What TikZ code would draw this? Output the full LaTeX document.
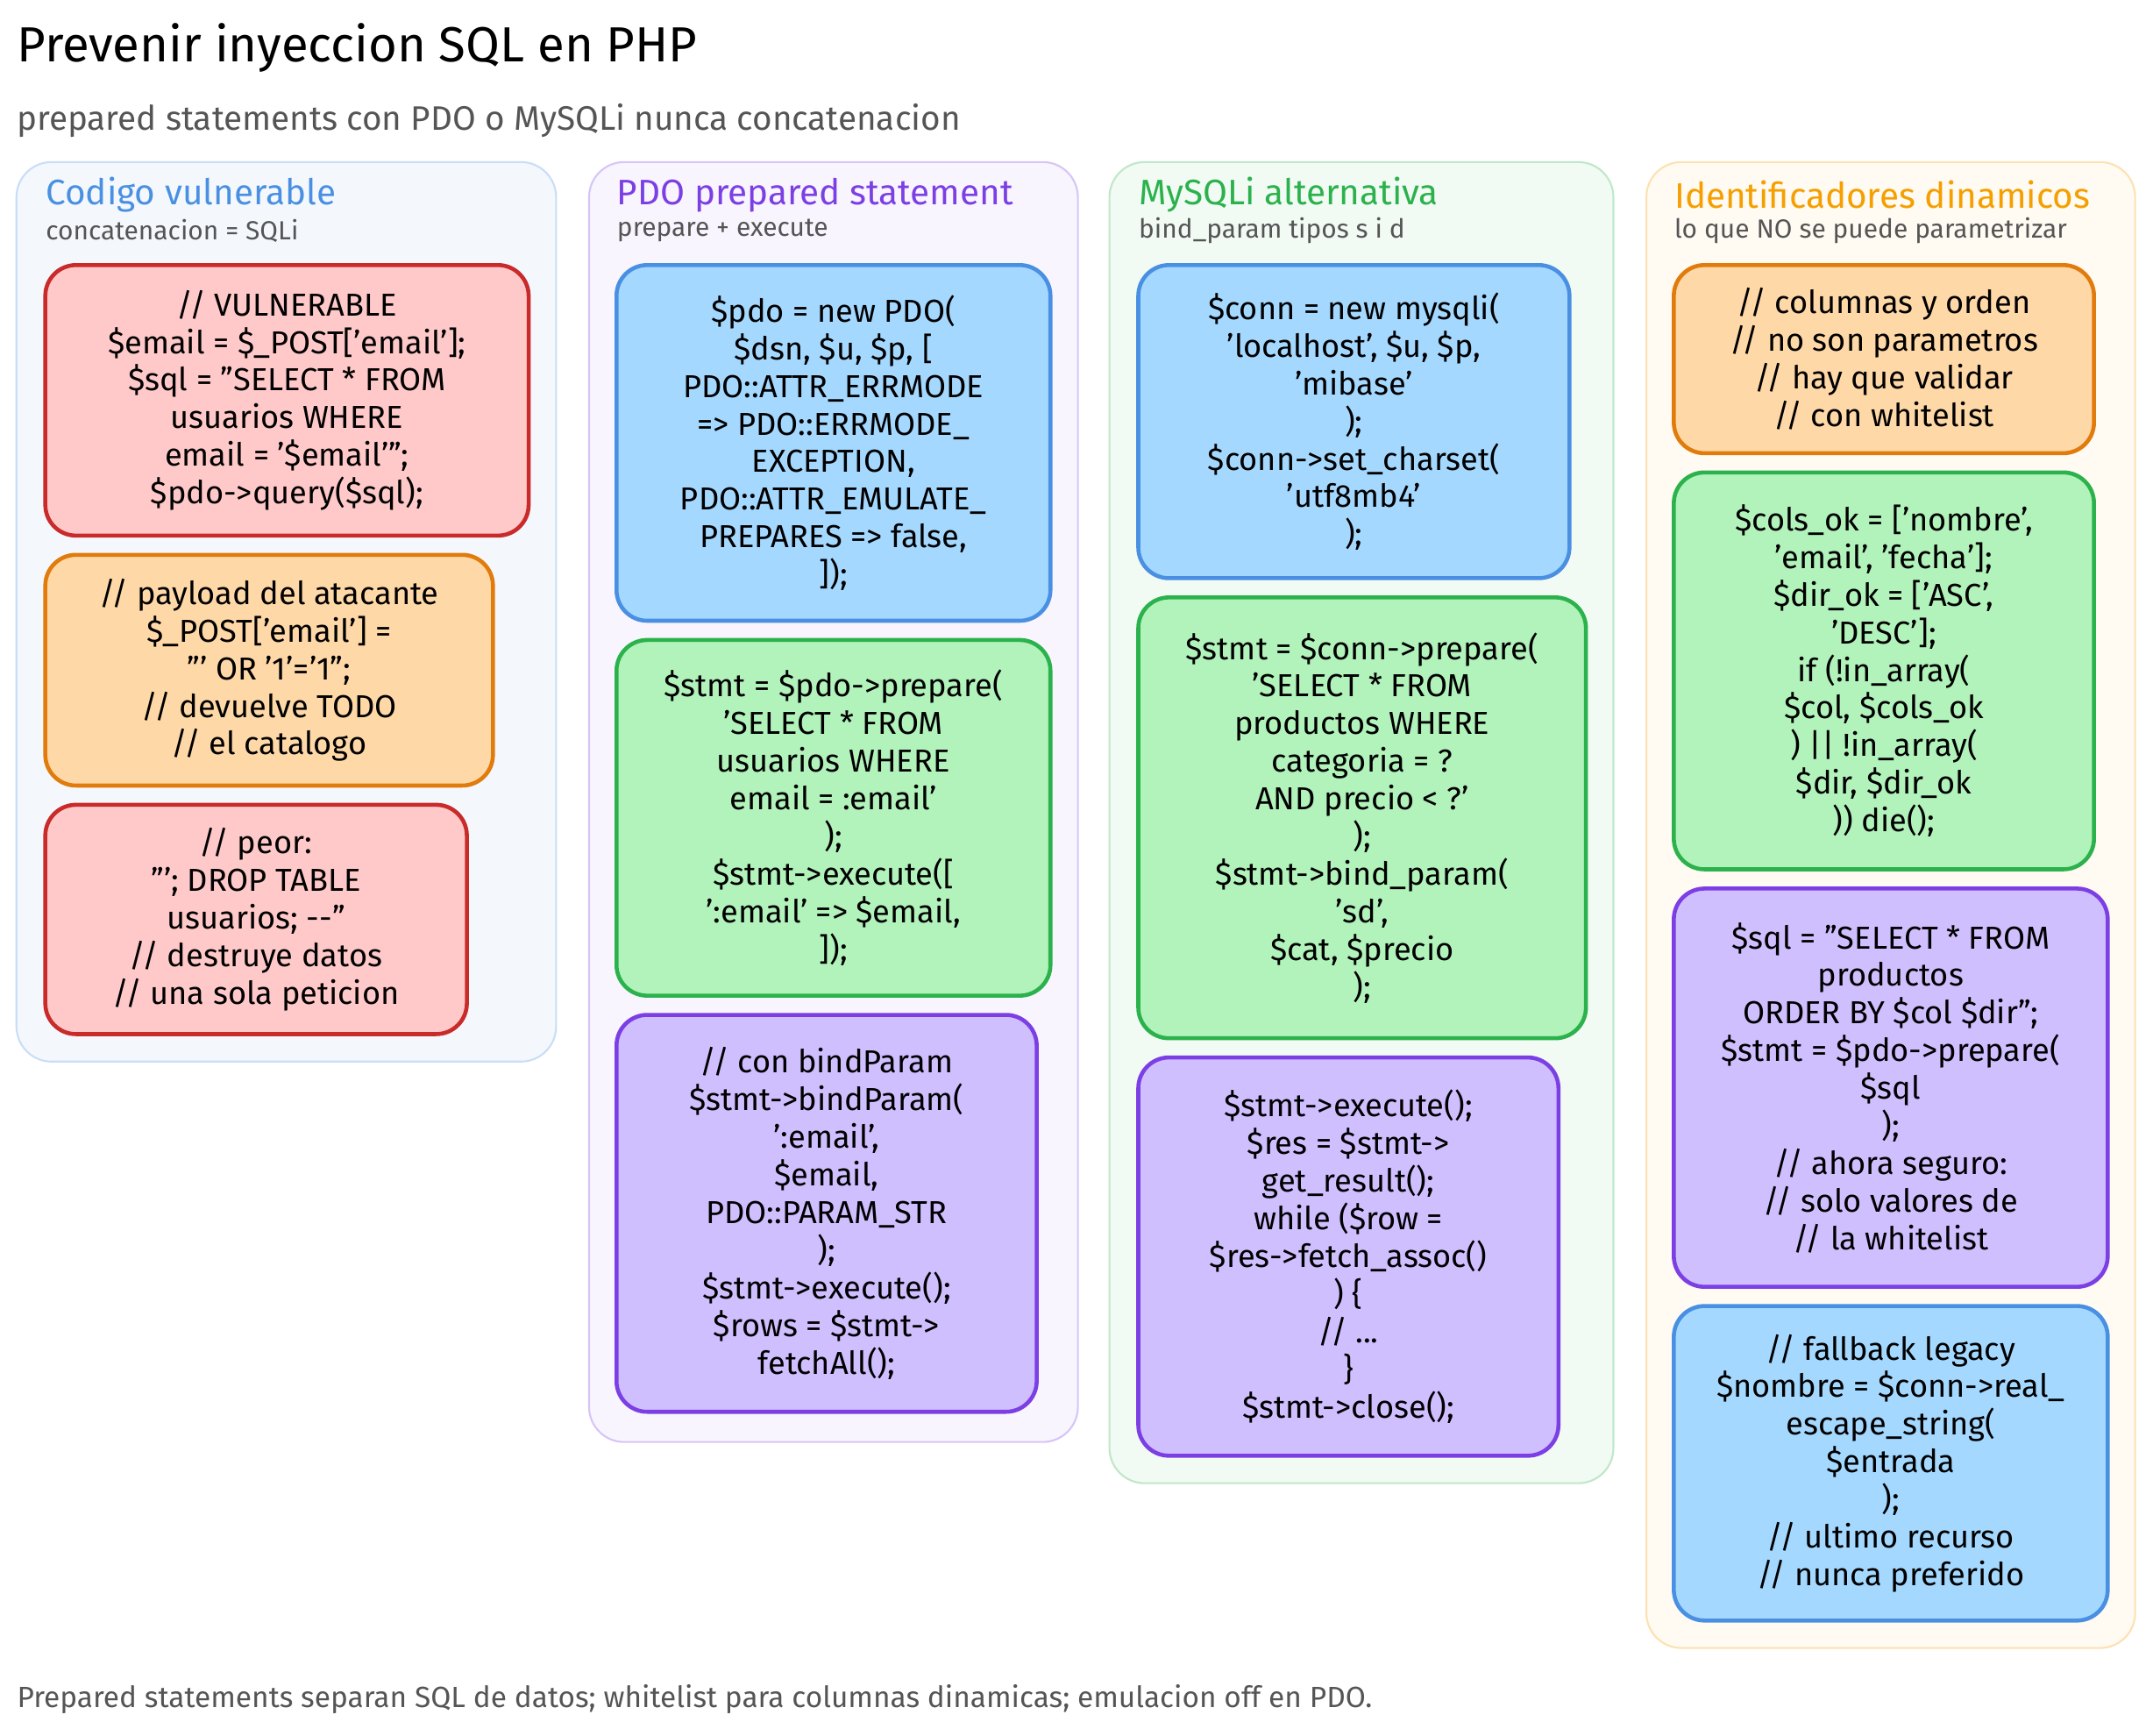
\documentclass[tikz,border=0pt]{standalone}
\usepackage{fontspec}
\setmainfont{Fira Sans}[Ligatures=ResetAll]
\definecolor{inkred}{HTML}{C92A2A}\definecolor{fillred}{HTML}{FFC9C9}
\definecolor{inkorange}{HTML}{E07B0C}\definecolor{fillorange}{HTML}{FFD8A8}
\definecolor{inkblue}{HTML}{4A90E2}\definecolor{fillblue}{HTML}{A5D8FF}
\definecolor{inkgreen}{HTML}{2BB24C}\definecolor{fillgreen}{HTML}{B2F2BB}
\definecolor{inkpurple}{HTML}{7B3FE4}\definecolor{fillpurple}{HTML}{D0BFFF}
\definecolor{txtgray}{HTML}{555555}
\definecolor{titleorange}{HTML}{F59F00}
\tikzset{
  panel/.style={rounded corners=0.4cm, line width=0.6pt},
  box/.style={rounded corners=0.35cm, line width=1.3pt},
  code/.style={align=center, font=\fontsize{10.3}{12.2}\selectfont, inner sep=0pt},
  coltitle/.style={anchor=west, font=\fontsize{11.5}{14}\selectfont, inner sep=0pt},
  colsub/.style={anchor=west, font=\fontsize{8.5}{10}\selectfont, text=txtgray, inner sep=0pt},
}
\newcommand{\cbox}[7]{%
  \draw[box, draw=ink#2, fill=fill#2] (#3,#4) rectangle (#5,#6);
  \node[code] (#1) at ({(#3+#5)/2},{(#4+#6)/2}) {#7};}
\begin{document}
\begin{tikzpicture}[x=0.01566cm, y=-0.01566cm]
\useasboundingbox[fill=white] (0,0) rectangle (1568,1264);
% header
\node[anchor=west, inner sep=0pt, font=\fontsize{16}{20}\selectfont] (title) at (12,35) {Prevenir inyeccion SQL en PHP};
\node[anchor=west, inner sep=0pt, font=\fontsize{11}{14}\selectfont, text=txtgray] (subtitle) at (12,88) {prepared statements con PDO o MySQLi nunca concatenacion};
% panels
\draw[panel, draw=inkblue!30, fill=inkblue!6] (12,118) rectangle (405,773);
\draw[panel, draw=inkpurple!30, fill=inkpurple!5] (429,118) rectangle (785,1050);
\draw[panel, draw=inkgreen!30, fill=inkgreen!6] (808,118) rectangle (1175,1080);
\draw[panel, draw=titleorange!30, fill=titleorange!5] (1199,118) rectangle (1555,1200);
\node[coltitle, text=inkblue] (t1) at (33,142) {Codigo vulnerable};
\node[colsub] (s1) at (33,168) {concatenacion = SQLi};
\node[coltitle, text=inkpurple] (t2) at (449,142) {PDO prepared statement};
\node[colsub] (s2) at (449,168) {prepare + execute};
\node[coltitle, text=inkgreen] (t3) at (829,142) {MySQLi alternativa};
\node[colsub] (s3) at (829,168) {bind\_param tipos s i d};
\node[coltitle, text=titleorange] (t4) at (1219,142) {Identificadores dinamicos};
\node[colsub] (s4) at (1219,168) {lo que NO se puede parametrizar};
% column 1
\cbox{vuln}{red}{33}{193}{385}{390}{// VULNERABLE\\ \$email = \$\_POST['email'];\\ \$sql = "SELECT * FROM\\ usuarios WHERE\\ email = '\$email'";\\ \$pdo->query(\$sql);}
\cbox{payload}{orange}{33}{404}{359}{572}{// payload del atacante\\ \$\_POST['email'] =\\ "' OR '1'='1";\\ // devuelve TODO\\ // el catalogo}
\cbox{drop}{red}{33}{586}{340}{753}{// peor:\\ "'; DROP TABLE\\ usuarios; -{}-"\\ // destruye datos\\ // una sola peticion}
% column 2
\cbox{pdonew}{blue}{449}{193}{765}{452}{\$pdo = new PDO(\\ \$dsn, \$u, \$p, [\\ PDO::ATTR\_ERRMODE\\ => PDO::ERRMODE\_\\ EXCEPTION,\\ PDO::ATTR\_EMULATE\_\\ PREPARES => false,\\ ]);}
\cbox{pdoprep}{green}{449}{466}{765}{725}{\$stmt = \$pdo->prepare(\\ 'SELECT * FROM\\ usuarios WHERE\\ email = :email'\\ );\\ \$stmt->execute([\\ ':email' => \$email,\\ ]);}
\cbox{pdobind}{purple}{449}{739}{755}{1028}{// con bindParam\\ \$stmt->bindParam(\\ ':email',\\ \$email,\\ PDO::PARAM\_STR\\ );\\ \$stmt->execute();\\ \$rows = \$stmt->\\ fetchAll();}
% column 3
\cbox{myconn}{blue}{829}{193}{1143}{421}{\$conn = new mysqli(\\ 'localhost', \$u, \$p,\\ 'mibase'\\ );\\ \$conn->set\_charset(\\ 'utf8mb4'\\ );}
\cbox{myprep}{green}{829}{435}{1155}{756}{\$stmt = \$conn->prepare(\\ 'SELECT * FROM\\ productos WHERE\\ categoria = ?\\ AND precio < ?'\\ );\\ \$stmt->bind\_param(\\ 'sd',\\ \$cat, \$precio\\ );}
\cbox{myexec}{purple}{829}{770}{1135}{1060}{\$stmt->execute();\\ \$res = \$stmt->\\ get\_result();\\ while (\$row =\\ \$res->fetch\_assoc()\\ ) \{\\ // ...\\ \}\\ \$stmt->close();}
% column 4
\cbox{idnote}{orange}{1219}{193}{1525}{330}{// columnas y orden\\ // no son parametros\\ // hay que validar\\ // con whitelist}
\cbox{whitelist}{green}{1219}{344}{1525}{633}{\$cols\_ok = ['nombre',\\ 'email', 'fecha'];\\ \$dir\_ok = ['ASC',\\ 'DESC'];\\ if (!in\_array(\\ \$col, \$cols\_ok\\ ) || !in\_array(\\ \$dir, \$dir\_ok\\ )) die();}
\cbox{orderby}{purple}{1219}{647}{1535}{937}{\$sql = "SELECT * FROM\\ productos\\ ORDER BY \$col \$dir";\\ \$stmt = \$pdo->prepare(\\ \$sql\\ );\\ // ahora seguro:\\ // solo valores de\\ // la whitelist}
\cbox{legacy}{blue}{1219}{951}{1535}{1180}{// fallback legacy\\ \$nombre = \$conn->real\_\\ escape\_string(\\ \$entrada\\ );\\ // ultimo recurso\\ // nunca preferido}
% footer
\node[anchor=west, inner sep=0pt, font=\fontsize{9.5}{12}\selectfont, text=txtgray] (footer) at (12,1237) {Prepared statements separan SQL de datos; whitelist para columnas dinamicas; emulacion off en PDO.};
\end{tikzpicture}
\end{document}
